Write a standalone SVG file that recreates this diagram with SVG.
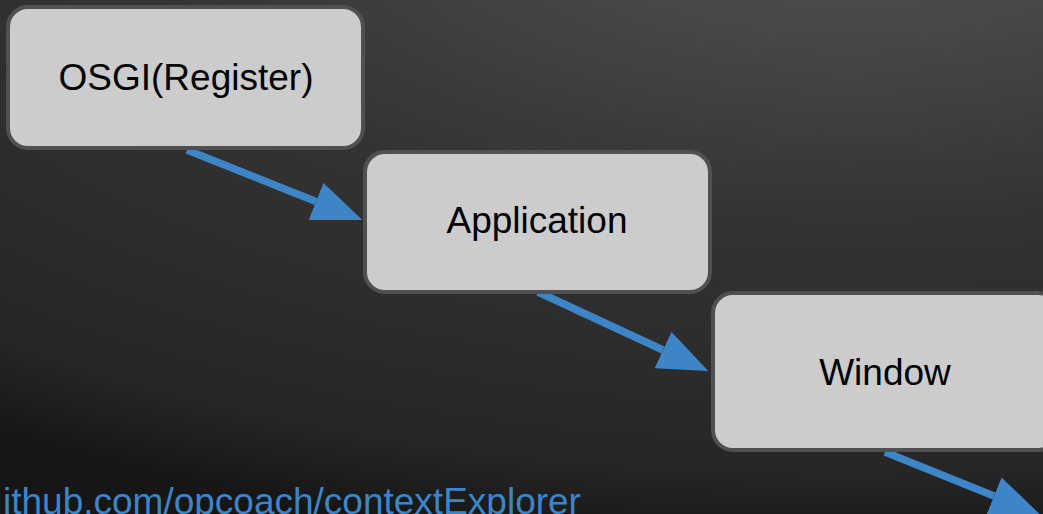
<svg xmlns="http://www.w3.org/2000/svg" width="1043" height="514" viewBox="0 0 1043 514">
  <defs>
    <radialGradient id="bg" gradientUnits="userSpaceOnUse" cx="850" cy="-100" r="650" gradientTransform="translate(850 -100) scale(2.3 1) translate(-850 100)">
      <stop offset="0" stop-color="#505050"/>
      <stop offset="0.2" stop-color="#484848"/>
      <stop offset="0.5" stop-color="#333333"/>
      <stop offset="0.88" stop-color="#262626"/>
      <stop offset="1" stop-color="#161616"/>
    </radialGradient>
    <marker id="head" markerUnits="userSpaceOnUse" markerWidth="50" markerHeight="40" refX="0" refY="20" orient="auto" viewBox="0 0 50 40">
      <path d="M0,0 L50,20 L0,40 Z" fill="#3d85c6"/>
    </marker>
  </defs>
  <style>
    .box { fill: #cccccc; stroke: #505050; stroke-width: 4; }
    .label { font-family: "Liberation Sans", Arial, sans-serif; font-size: 37px; fill: #000000; text-anchor: middle; }
    .conn { stroke: #3d85c6; stroke-width: 7.5; fill: none; marker-end: url(#head); }
    .link { font-family: "Liberation Sans", Arial, sans-serif; font-size: 37px; fill: #3d85c6; }
  </style>
  <rect x="0" y="0" width="1043" height="514" fill="url(#bg)"/>
  <g id="connectors">
    <line class="conn" x1="187" y1="150" x2="316" y2="201.5"/>
    <line class="conn" x1="538" y1="292" x2="663" y2="350"/>
    <line class="conn" x1="885" y1="452" x2="994" y2="496"/>
  </g>
  <g id="node-osgi">
    <rect class="box" x="8" y="7" width="355" height="141" rx="20" ry="20"/>
    <text class="label" x="186" y="90">OSGI(Register)</text>
  </g>
  <g id="node-application">
    <rect class="box" x="365" y="152" width="345" height="140" rx="20" ry="20"/>
    <text class="label" x="537" y="233">Application</text>
  </g>
  <g id="node-window">
    <rect class="box" x="713" y="293" width="345" height="157" rx="20" ry="20"/>
    <text class="label" x="885" y="385">Window</text>
  </g>
  <text class="link" x="3" y="514">ithub.com/opcoach/contextExplorer</text>
</svg>
